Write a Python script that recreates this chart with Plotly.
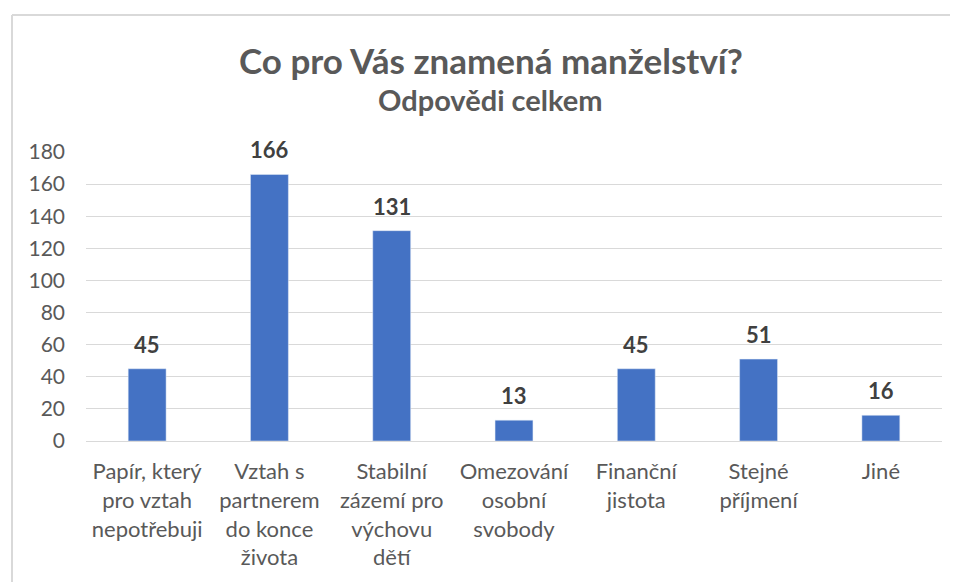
import plotly.graph_objects as go

categories = ["Papír, který pro vztah nepotřebuji", "Vztah s partnerem do konce života",
              "Stabilní zázemí pro výchovu dětí", "Omezování osobní svobody",
              "Finanční jistota", "Stejné příjmení", "Jiné"]
tick_labels = ["Papír, který<br>pro vztah<br>nepotřebuji", "Vztah s<br>partnerem<br>do konce<br>života",
               "Stabilní<br>zázemí pro<br>výchovu<br>dětí", "Omezování<br>osobní<br>svobody",
               "Finanční<br>jistota", "Stejné<br>příjmení", "Jiné"]
values = [45, 166, 131, 13, 45, 51, 16]
y_ticks = [0, 20, 40, 60, 80, 100, 120, 140, 160, 180]

W, H = 958, 582
OFF = 8  # page offset of the figure in the window
ml, mr, mt, mb = 86 - OFF, 958 - 942 + OFF, 152 - OFF, 582 - 441 + OFF
pw, ph = W - ml - mr, H - mt - mb
FONT = "Lato, 'Open Sans', sans-serif"


def px_x(x):
    return (x - OFF - ml) / pw


def px_y(y):
    return (H - mb - (y - OFF)) / ph


fig = go.Figure(go.Bar(x=categories, y=values, marker_color="#4472C4", width=0.31))

for c, v in zip(categories, values):
    fig.add_annotation(x=c, y=v, text=f"<b>{v}</b>", showarrow=False, yanchor="bottom",
                       yshift=9, font=dict(size=22, color="#404040", family=FONT))

fig.add_annotation(xref="paper", yref="paper", x=px_x(491), y=px_y(60),
                   text="<b>Co pro Vás znamená manželství?</b>", showarrow=False,
                   xanchor="center", yanchor="middle", font=dict(size=35, color="#595959", family=FONT))
fig.add_annotation(xref="paper", yref="paper", x=px_x(490), y=px_y(99),
                   text="<b>Odpovědi celkem</b>", showarrow=False,
                   xanchor="center", yanchor="middle", font=dict(size=29, color="#595959", family=FONT))

# chart frame (top and left edges)
x_left = px_x(12)
y_top = px_y(15)
y_bot = px_y(600)
fig.add_shape(type="line", xref="paper", yref="paper", x0=x_left, x1=px_x(980), y0=y_top, y1=y_top,
              line=dict(color="#D9D9D9", width=2))
fig.add_shape(type="line", xref="paper", yref="paper", x0=x_left, x1=x_left, y0=y_top, y1=y_bot,
              line=dict(color="#D9D9D9", width=2))

fig.update_layout(
    width=W, height=H, margin=dict(l=ml, r=mr, t=mt, b=mb),
    plot_bgcolor="white", paper_bgcolor="white", showlegend=False,
    font=dict(family=FONT, color="#595959", size=20),
)
fig.update_xaxes(tickvals=categories, ticktext=tick_labels, showgrid=False, showline=True,
                 linecolor="#D9D9D9", linewidth=1, ticks="", ticklabelstandoff=11,
                 tickfont=dict(size=22, color="#595959"))
fig.update_yaxes(range=[0, 180], tickvals=y_ticks, showgrid=True, gridcolor="#D9D9D9", gridwidth=1,
                 zeroline=False, showline=False, ticks="", ticklabelstandoff=20,
                 tickfont=dict(size=21, color="#595959"))

fig.write_html("out.html")
